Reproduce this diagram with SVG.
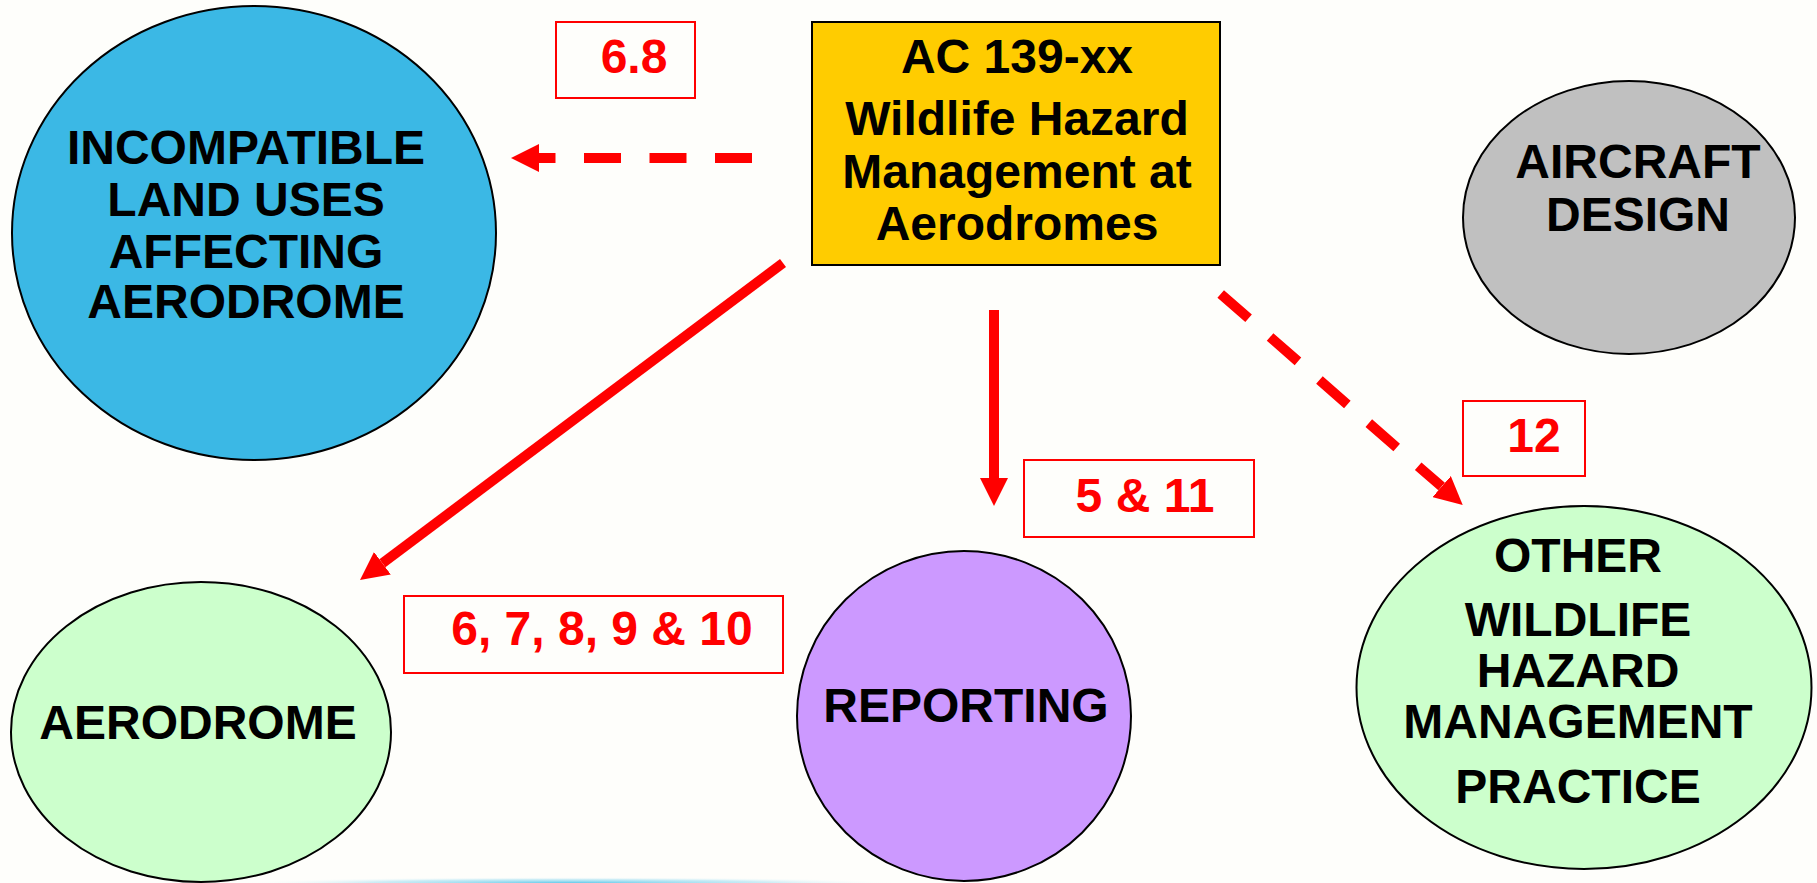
<svg xmlns="http://www.w3.org/2000/svg" width="1817" height="883" viewBox="0 0 1817 883">
<style>
.node{stroke:#000;stroke-width:2}
.t{font-family:"Liberation Sans",Arial,sans-serif;font-weight:bold;font-size:48px;fill:#000;text-anchor:middle}
.lbl{font-family:"Liberation Sans",Arial,sans-serif;font-weight:bold;font-size:48px;fill:#FF0000;text-anchor:middle}
.lbox{fill:none;stroke:#FF0000;stroke-width:2}
.conn{stroke:#FF0000;stroke-width:10;fill:none;stroke-linecap:butt}
.dash{stroke-dasharray:37 28.5}
</style>
<defs>
<marker id="ah" markerUnits="userSpaceOnUse" viewBox="0 0 28 28" markerWidth="28" markerHeight="28" refX="0" refY="14" orient="auto">
<path d="M0,0 L28,14 L0,28 Z" fill="#FF0000"/>
</marker>
<radialGradient id="glow" cx="0.5" cy="0.5" r="0.5">
<stop offset="0" stop-color="#4FC3E8" stop-opacity="0.9"/>
<stop offset="0.6" stop-color="#9ADCF0" stop-opacity="0.5"/>
<stop offset="1" stop-color="#FFFFFF" stop-opacity="0"/>
</radialGradient>
</defs>
<rect width="1817" height="883" fill="#FEFEFB"/>
<ellipse cx="570" cy="883" rx="330" ry="6" fill="url(#glow)"/>

<g id="connectors">
<line class="conn dash" x1="752" y1="158" x2="539" y2="158" marker-end="url(#ah)"/>
<line class="conn" x1="783" y1="263" x2="382.4" y2="563.2" marker-end="url(#ah)"/>
<line class="conn" x1="994" y1="310" x2="994" y2="478" stroke-width="9" marker-end="url(#ah)"/>
<line class="conn dash" x1="1220.7" y1="294" x2="1441.6" y2="486.6" marker-end="url(#ah)"/>
</g>

<g id="incompatible">
<ellipse class="node" cx="254" cy="233" rx="242" ry="227" fill="#3BB8E5"/>
<text class="t" x="246" y="164">INCOMPATIBLE</text>
<text class="t" x="246" y="216">LAND USES</text>
<text class="t" x="246" y="268">AFFECTING</text>
<text class="t" x="246" y="318">AERODROME</text>
</g>

<g id="ac139">
<rect class="node" x="812" y="22" width="408" height="243" fill="#FFCC00"/>
<text class="t" x="1017" y="73">AC 139-xx</text>
<text class="t" x="1017" y="135">Wildlife Hazard</text>
<text class="t" x="1017" y="188">Management at</text>
<text class="t" x="1017" y="240">Aerodromes</text>
</g>

<g id="aircraft">
<ellipse class="node" cx="1629" cy="217.5" rx="166" ry="136.5" fill="#C0C0C0"/>
<text class="t" x="1638" y="178">AIRCRAFT</text>
<text class="t" x="1638" y="231">DESIGN</text>
</g>

<g id="aerodrome">
<ellipse class="node" cx="201" cy="732" rx="190" ry="150" fill="#CCFFCC"/>
<text class="t" x="198" y="739">AERODROME</text>
</g>

<g id="reporting">
<ellipse class="node" cx="964" cy="716" rx="167" ry="165" fill="#CC99FF"/>
<text class="t" x="966" y="722">REPORTING</text>
</g>

<g id="other">
<ellipse class="node" cx="1584" cy="687.5" rx="227.5" ry="181.5" fill="#CCFFCC"/>
<text class="t" x="1578" y="572">OTHER</text>
<text class="t" x="1578" y="636">WILDLIFE</text>
<text class="t" x="1578" y="687">HAZARD</text>
<text class="t" x="1578" y="738">MANAGEMENT</text>
<text class="t" x="1578" y="803">PRACTICE</text>
</g>

<g id="label-6-8">
<rect class="lbox" x="556" y="22" width="139" height="76"/>
<text class="lbl" x="634" y="73">6.8</text>
</g>
<g id="label-5-11">
<rect class="lbox" x="1024" y="460" width="230" height="77"/>
<text class="lbl" x="1145" y="512">5 &amp; 11</text>
</g>
<g id="label-6-10">
<rect class="lbox" x="404" y="596" width="379" height="77"/>
<text class="lbl" x="602" y="645">6, 7, 8, 9 &amp; 10</text>
</g>
<g id="label-12">
<rect class="lbox" x="1463" y="401" width="122" height="75"/>
<text class="lbl" x="1534" y="452">12</text>
</g>
</svg>
